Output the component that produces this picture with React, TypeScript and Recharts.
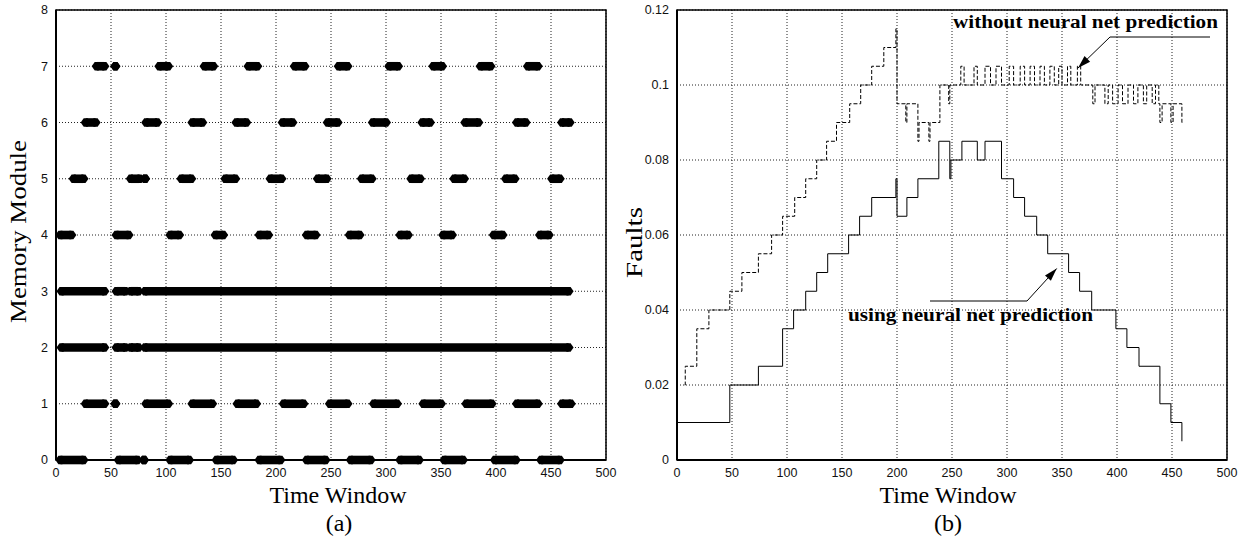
import {
  ScatterChart, Scatter, LineChart, Line, XAxis, YAxis, CartesianGrid, ReferenceArea,
} from 'recharts';

// tick values
const timeTicks = [0, 50, 100, 150, 200, 250, 300, 350, 400, 450, 500];
const moduleTicks = [0, 1, 2, 3, 4, 5, 6, 7, 8];
const faultTicks = [0, 0.02, 0.04, 0.06, 0.08, 0.1, 0.12];

// (a) busy time windows per memory module, [start, end]
const module0 = [[4, 25], [57, 74], [80, 80], [104, 121], [146, 161], [185, 204], [228, 245], [268, 286], [313, 330], [353, 370], [399, 418], [441, 458]];
const module1 = [[27, 44], [54, 54], [82, 102], [124, 142], [165, 182], [207, 225], [249, 265], [289, 310], [334, 350], [373, 396], [419, 438], [460, 468]];
const module2 = [[5, 44], [55, 63], [68, 75], [81, 466]];
const module3 = [[5, 44], [55, 63], [68, 75], [81, 466]];
const module4 = [[4, 14], [55, 66], [104, 112], [145, 152], [185, 193], [228, 236], [267, 276], [313, 320], [352, 360], [398, 406], [440, 448]];
const module5 = [[16, 25], [68, 76], [81, 81], [114, 123], [154, 163], [195, 205], [238, 246], [278, 287], [323, 331], [362, 371], [409, 417], [451, 458]];
const module6 = [[27, 36], [82, 92], [124, 133], [164, 173], [206, 215], [247, 256], [288, 300], [333, 340], [372, 384], [419, 427], [460, 467]];
const module7 = [[37, 44], [54, 54], [94, 102], [135, 143], [175, 183], [217, 226], [257, 265], [303, 311], [343, 351], [386, 395], [429, 438]];
const modules = [module0, module1, module2, module3, module4, module5, module6, module7];

// (b) faults, change points [time, value]
const usingNN = [
  [0, 0.01], [48, 0.02], [74, 0.025], [96, 0.035], [106, 0.04], [117, 0.045], [127, 0.05], [137, 0.055],
  [156, 0.06], [166, 0.065], [177, 0.07], [199, 0.075], [200, 0.065], [209, 0.07], [219, 0.075], [238, 0.085],
  [248, 0.075], [249, 0.08], [259, 0.085], [273, 0.08], [280, 0.085], [295, 0.075], [306, 0.07], [316, 0.065],
  [327, 0.06], [337, 0.055], [356, 0.05], [366, 0.045], [377, 0.04], [399, 0.035], [409, 0.03], [420, 0.025],
  [439, 0.015], [449, 0.01], [459, 0.005],
];
const withoutNN = [
  [7, 0.02], [7.5, 0.025], [18, 0.035], [29, 0.04], [48, 0.045], [59, 0.05], [74, 0.055], [86, 0.06],
  [96, 0.065], [107, 0.07], [117, 0.075], [127, 0.08], [136, 0.085], [145, 0.09], [157, 0.095], [167, 0.1],
  [177, 0.105], [188, 0.11], [199, 0.115], [200, 0.095], [208, 0.09], [209, 0.095], [219, 0.085], [220, 0.09],
  [229, 0.085], [230, 0.09], [239, 0.1], [247, 0.095], [248, 0.1],
  [258, 0.105], [261, 0.1], [270, 0.105], [273, 0.1], [280, 0.105], [285, 0.1], [290, 0.105], [295, 0.1],
  [302, 0.105], [306, 0.1], [312, 0.105], [316, 0.1], [321, 0.105], [325, 0.1], [330, 0.105], [334, 0.1],
  [339, 0.105], [343, 0.1], [347, 0.105], [350, 0.1], [355, 0.105], [358, 0.1], [364, 0.105], [367, 0.1],
  [378, 0.095], [380, 0.1], [389, 0.095], [392, 0.1], [396, 0.095], [401, 0.1], [405, 0.095], [410, 0.1],
  [415, 0.095], [419, 0.1], [424, 0.095], [427, 0.1], [432, 0.095], [435, 0.1], [438, 0.095], [439, 0.09],
  [441, 0.095], [449, 0.09], [451, 0.095], [459, 0.09], [460, 0.09],
];

const SANS = '"Liberation Sans", Arial, sans-serif';
const SERIF = '"Liberation Serif", "Times New Roman", serif';
const tickStyle = { fontFamily: SANS, fontSize: 12.5, fill: '#111' };

const Blob = (p: any) => {
  const { cx, cy } = p;
  if (cx == null || cy == null) return null;
  return (
    <polygon
      points={`${cx - 5},${cy} ${cx - 2},${cy - 4.3} ${cx + 2},${cy - 4.3} ${cx + 5},${cy} ${cx + 2},${cy + 4.3} ${cx - 2},${cy + 4.3}`}
      fill="#000"
    />
  );
};

function ModuleChart() {
  return (
    <ScatterChart width={620} height={540} margin={{ top: 10, right: 14, bottom: 50, left: 16 }}>
      <CartesianGrid stroke="#222" strokeDasharray="1 2" />
      <XAxis type="number" dataKey="t" domain={[0, 500]} ticks={timeTicks} height={30}
        tick={tickStyle} tickLine={false} tickSize={6} tickMargin={2} axisLine={{ stroke: '#000', strokeWidth: 2 }} />
      <YAxis type="number" dataKey="m" domain={[0, 8]} ticks={moduleTicks} width={40}
        tick={tickStyle} tickLine={false} tickSize={6} tickMargin={2} axisLine={{ stroke: '#000', strokeWidth: 2 }} />
      <ReferenceArea x1={0} x2={500} y1={0} y2={8} fill="none" stroke="#000" strokeWidth={1.5} />
      {modules.map((segs, m) =>
        segs.map(([s, e], i) => (
          <Scatter
            key={`m${m}-${i}`}
            data={[{ t: s, m }, { t: e, m }]}
            line={{ stroke: '#000', strokeWidth: 8.6 }}
            shape={Blob}
            isAnimationActive={false}
          />
        ))
      )}
    </ScatterChart>
  );
}

function FaultChart() {
  const a = usingNN.map(([t, v]) => ({ t, v }));
  const b = withoutNN.map(([t, v]) => ({ t, v }));
  return (
    <LineChart width={622} height={540} margin={{ top: 10, right: 15, bottom: 50, left: 17 }}>
      <CartesianGrid stroke="#222" strokeDasharray="1 2" />
      <XAxis type="number" dataKey="t" domain={[0, 500]} ticks={timeTicks} height={30} allowDuplicatedCategory={false}
        tick={tickStyle} tickLine={false} tickSize={6} tickMargin={2} axisLine={{ stroke: '#000', strokeWidth: 2 }} />
      <YAxis type="number" domain={[0, 0.12]} ticks={faultTicks} width={40}
        tick={tickStyle} tickLine={false} tickSize={6} tickMargin={2} axisLine={{ stroke: '#000', strokeWidth: 2 }} />
      <ReferenceArea x1={0} x2={500} y1={0} y2={0.12} fill="none" stroke="#000" strokeWidth={1.5} />
      <Line data={b} dataKey="v" type="stepAfter" stroke="#000" strokeWidth={1} strokeDasharray="4 2" dot={false} isAnimationActive={false} />
      <Line data={a} dataKey="v" type="stepAfter" stroke="#000" strokeWidth={1} dot={false} isAnimationActive={false} />
    </LineChart>
  );
}

function arrowHead(x1: number, y1: number, x2: number, y2: number) {
  const dx = x2 - x1, dy = y2 - y1;
  const len = Math.hypot(dx, dy);
  const ux = dx / len, uy = dy / len;
  const bx = x2 - ux * 13, by = y2 - uy * 13;
  const px = -uy * 4, py = ux * 4;
  return `${x2},${y2} ${bx + px},${by + py} ${bx - px},${by - py}`;
}

function Overlay() {
  return (
    <svg width={1242} height={540} style={{ position: 'absolute', left: 0, top: 0, pointerEvents: 'none' }}>
      <text x={338} y={503} textAnchor="middle" fontFamily={SERIF} fontSize={24}>Time Window</text>
      <text x={339} y={531} textAnchor="middle" fontFamily={SERIF} fontSize={24}>(a)</text>
      <text x={948} y={503} textAnchor="middle" fontFamily={SERIF} fontSize={24}>Time Window</text>
      <text x={948} y={531} textAnchor="middle" fontFamily={SERIF} fontSize={24}>(b)</text>
      <text transform="translate(26,231.5) rotate(-90)" textAnchor="middle" fontFamily={SERIF} fontSize={24}
        textLength={183} lengthAdjust="spacingAndGlyphs">Memory Module</text>
      <text transform="translate(642,242.5) rotate(-90)" textAnchor="middle" fontFamily={SERIF} fontSize={24}
        textLength={71} lengthAdjust="spacingAndGlyphs">Faults</text>

      <text x={953} y={28} fontFamily={SERIF} fontWeight="bold" fontSize={18}
        textLength={265} lengthAdjust="spacingAndGlyphs">without neural net prediction</text>
      <polyline points="1210,37 1110,37 1078,68" fill="none" stroke="#000" strokeWidth={1} />
      <polygon points={arrowHead(1110, 37, 1078, 68)} fill="#000" />

      <text x={848} y={321} fontFamily={SERIF} fontWeight="bold" fontSize={18}
        textLength={245} lengthAdjust="spacingAndGlyphs">using neural net prediction</text>
      <polyline points="930,301 1027,301 1056.7,268.5" fill="none" stroke="#000" strokeWidth={1} />
      <polygon points={arrowHead(1027, 301, 1056.7, 268.5)} fill="#000" />
    </svg>
  );
}

export default function App() {
  return (
    <div style={{ position: 'absolute', left: 0, top: 0, width: 1242, height: 540, background: '#fff' }}>
      <div style={{ position: 'absolute', left: 0, top: 0 }}>
        <ModuleChart />
      </div>
      <div style={{ position: 'absolute', left: 620, top: 0 }}>
        <FaultChart />
      </div>
      <Overlay />
    </div>
  );
}
